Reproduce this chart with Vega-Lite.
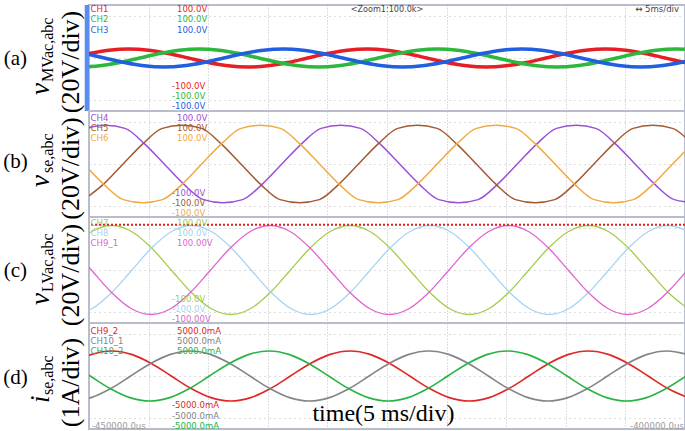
{
"$schema": "https://vega.github.io/schema/vega-lite/v6.json",
"background": "white",
"padding": {"left": 2, "top": 2, "right": 0, "bottom": 0},
"spacing": 0,
"bounds": "flush",
"resolve": {"scale": {"color": "independent", "x": "independent", "y": "independent"}},
"datasets": {
"a": [
{"c":"CH1","t":-1.67,"v":0},{"c":"CH1","t":0,"v":8.5},{"c":"CH1","t":1.67,"v":14.7},{"c":"CH1","t":3.33,"v":17},{"c":"CH1","t":5,"v":14.7},{"c":"CH1","t":6.67,"v":8.5},{"c":"CH1","t":8.33,"v":0},{"c":"CH1","t":10,"v":-8.5},{"c":"CH1","t":11.67,"v":-14.7},{"c":"CH1","t":13.33,"v":-17},{"c":"CH1","t":15,"v":-14.7},{"c":"CH1","t":16.67,"v":-8.5},
{"c":"CH1","t":18.33,"v":0},{"c":"CH1","t":20,"v":8.5},{"c":"CH1","t":21.67,"v":14.7},{"c":"CH1","t":23.33,"v":17},{"c":"CH1","t":25,"v":14.7},{"c":"CH1","t":26.67,"v":8.5},{"c":"CH1","t":28.33,"v":0},{"c":"CH1","t":30,"v":-8.5},{"c":"CH1","t":31.67,"v":-14.7},{"c":"CH1","t":33.33,"v":-17},{"c":"CH1","t":35,"v":-14.7},{"c":"CH1","t":36.67,"v":-8.5},
{"c":"CH1","t":38.33,"v":0},{"c":"CH1","t":40,"v":8.5},{"c":"CH1","t":41.67,"v":14.7},{"c":"CH1","t":43.33,"v":17},{"c":"CH1","t":45,"v":14.7},{"c":"CH1","t":46.67,"v":8.5},{"c":"CH1","t":48.33,"v":0},{"c":"CH1","t":50,"v":-8.5},{"c":"CH1","t":51.67,"v":-14.7},
{"c":"CH2","t":-0.75,"v":-17},{"c":"CH2","t":0.92,"v":-14.7},{"c":"CH2","t":2.58,"v":-8.5},{"c":"CH2","t":4.25,"v":0},{"c":"CH2","t":5.92,"v":8.5},{"c":"CH2","t":7.58,"v":14.7},{"c":"CH2","t":9.25,"v":17},{"c":"CH2","t":10.92,"v":14.7},{"c":"CH2","t":12.58,"v":8.5},{"c":"CH2","t":14.25,"v":0},{"c":"CH2","t":15.92,"v":-8.5},{"c":"CH2","t":17.58,"v":-14.7},
{"c":"CH2","t":19.25,"v":-17},{"c":"CH2","t":20.92,"v":-14.7},{"c":"CH2","t":22.58,"v":-8.5},{"c":"CH2","t":24.25,"v":0},{"c":"CH2","t":25.92,"v":8.5},{"c":"CH2","t":27.58,"v":14.7},{"c":"CH2","t":29.25,"v":17},{"c":"CH2","t":30.92,"v":14.7},{"c":"CH2","t":32.58,"v":8.5},{"c":"CH2","t":34.25,"v":0},{"c":"CH2","t":35.92,"v":-8.5},{"c":"CH2","t":37.58,"v":-14.7},
{"c":"CH2","t":39.25,"v":-17},{"c":"CH2","t":40.92,"v":-14.7},{"c":"CH2","t":42.58,"v":-8.5},{"c":"CH2","t":44.25,"v":0},{"c":"CH2","t":45.92,"v":8.5},{"c":"CH2","t":47.58,"v":14.7},{"c":"CH2","t":49.25,"v":17},{"c":"CH2","t":50.92,"v":14.7},
{"c":"CH3","t":-0.37,"v":8.5},{"c":"CH3","t":1.3,"v":0},{"c":"CH3","t":2.97,"v":-8.5},{"c":"CH3","t":4.63,"v":-14.7},{"c":"CH3","t":6.3,"v":-17},{"c":"CH3","t":7.97,"v":-14.7},{"c":"CH3","t":9.63,"v":-8.5},{"c":"CH3","t":11.3,"v":0},{"c":"CH3","t":12.97,"v":8.5},{"c":"CH3","t":14.63,"v":14.7},{"c":"CH3","t":16.3,"v":17},{"c":"CH3","t":17.97,"v":14.7},
{"c":"CH3","t":19.63,"v":8.5},{"c":"CH3","t":21.3,"v":0},{"c":"CH3","t":22.97,"v":-8.5},{"c":"CH3","t":24.63,"v":-14.7},{"c":"CH3","t":26.3,"v":-17},{"c":"CH3","t":27.97,"v":-14.7},{"c":"CH3","t":29.63,"v":-8.5},{"c":"CH3","t":31.3,"v":0},{"c":"CH3","t":32.97,"v":8.5},{"c":"CH3","t":34.63,"v":14.7},{"c":"CH3","t":36.3,"v":17},{"c":"CH3","t":37.97,"v":14.7},
{"c":"CH3","t":39.63,"v":8.5},{"c":"CH3","t":41.3,"v":0},{"c":"CH3","t":42.97,"v":-8.5},{"c":"CH3","t":44.63,"v":-14.7},{"c":"CH3","t":46.3,"v":-17},{"c":"CH3","t":47.97,"v":-14.7},{"c":"CH3","t":49.63,"v":-8.5},{"c":"CH3","t":51.3,"v":0}
],
"b": [
{"c":"CH4","t":-0.28,"v":67.2},{"c":"CH4","t":1.37,"v":73},{"c":"CH4","t":3.02,"v":67.2},{"c":"CH4","t":4.66,"v":38},{"c":"CH4","t":6.31,"v":0},{"c":"CH4","t":7.95,"v":-38},{"c":"CH4","t":9.6,"v":-67.2},{"c":"CH4","t":11.25,"v":-73},{"c":"CH4","t":12.89,"v":-67.2},{"c":"CH4","t":14.54,"v":-38},{"c":"CH4","t":16.18,"v":0},{"c":"CH4","t":17.83,"v":38},
{"c":"CH4","t":19.47,"v":67.2},{"c":"CH4","t":21.12,"v":73},{"c":"CH4","t":22.77,"v":67.2},{"c":"CH4","t":24.41,"v":38},{"c":"CH4","t":26.06,"v":0},{"c":"CH4","t":27.7,"v":-38},{"c":"CH4","t":29.35,"v":-67.2},{"c":"CH4","t":31,"v":-73},{"c":"CH4","t":32.64,"v":-67.2},{"c":"CH4","t":34.29,"v":-38},{"c":"CH4","t":35.93,"v":0},{"c":"CH4","t":37.58,"v":38},
{"c":"CH4","t":39.22,"v":67.2},{"c":"CH4","t":40.87,"v":73},{"c":"CH4","t":42.52,"v":67.2},{"c":"CH4","t":44.16,"v":38},{"c":"CH4","t":45.81,"v":0},{"c":"CH4","t":47.45,"v":-38},{"c":"CH4","t":49.1,"v":-67.2},{"c":"CH4","t":50.75,"v":-73},
{"c":"CH5","t":-0.43,"v":-67.2},{"c":"CH5","t":1.22,"v":-38},{"c":"CH5","t":2.86,"v":0},{"c":"CH5","t":4.51,"v":38},{"c":"CH5","t":6.15,"v":67.2},{"c":"CH5","t":7.8,"v":73},{"c":"CH5","t":9.45,"v":67.2},{"c":"CH5","t":11.09,"v":38},{"c":"CH5","t":12.74,"v":0},{"c":"CH5","t":14.38,"v":-38},{"c":"CH5","t":16.03,"v":-67.2},{"c":"CH5","t":17.68,"v":-73},
{"c":"CH5","t":19.32,"v":-67.2},{"c":"CH5","t":20.97,"v":-38},{"c":"CH5","t":22.61,"v":0},{"c":"CH5","t":24.26,"v":38},{"c":"CH5","t":25.9,"v":67.2},{"c":"CH5","t":27.55,"v":73},{"c":"CH5","t":29.2,"v":67.2},{"c":"CH5","t":30.84,"v":38},{"c":"CH5","t":32.49,"v":0},{"c":"CH5","t":34.13,"v":-38},{"c":"CH5","t":35.78,"v":-67.2},{"c":"CH5","t":37.43,"v":-73},
{"c":"CH5","t":39.07,"v":-67.2},{"c":"CH5","t":40.72,"v":-38},{"c":"CH5","t":42.36,"v":0},{"c":"CH5","t":44.01,"v":38},{"c":"CH5","t":45.65,"v":67.2},{"c":"CH5","t":47.3,"v":73},{"c":"CH5","t":48.95,"v":67.2},{"c":"CH5","t":50.59,"v":38},
{"c":"CH6","t":-0.41,"v":0},{"c":"CH6","t":1.23,"v":-38},{"c":"CH6","t":2.88,"v":-67.2},{"c":"CH6","t":4.53,"v":-73},{"c":"CH6","t":6.17,"v":-67.2},{"c":"CH6","t":7.82,"v":-38},{"c":"CH6","t":9.46,"v":0},{"c":"CH6","t":11.11,"v":38},{"c":"CH6","t":12.75,"v":67.2},{"c":"CH6","t":14.4,"v":73},{"c":"CH6","t":16.05,"v":67.2},{"c":"CH6","t":17.69,"v":38},
{"c":"CH6","t":19.34,"v":0},{"c":"CH6","t":20.98,"v":-38},{"c":"CH6","t":22.63,"v":-67.2},{"c":"CH6","t":24.28,"v":-73},{"c":"CH6","t":25.92,"v":-67.2},{"c":"CH6","t":27.57,"v":-38},{"c":"CH6","t":29.21,"v":0},{"c":"CH6","t":30.86,"v":38},{"c":"CH6","t":32.5,"v":67.2},{"c":"CH6","t":34.15,"v":73},{"c":"CH6","t":35.8,"v":67.2},{"c":"CH6","t":37.44,"v":38},
{"c":"CH6","t":39.09,"v":0},{"c":"CH6","t":40.73,"v":-38},{"c":"CH6","t":42.38,"v":-67.2},{"c":"CH6","t":44.03,"v":-73},{"c":"CH6","t":45.67,"v":-67.2},{"c":"CH6","t":47.32,"v":-38},{"c":"CH6","t":48.96,"v":0},{"c":"CH6","t":50.61,"v":38}
],
"c": [
{"c":"CH7","t":-1.43,"v":42},{"c":"CH7","t":0.23,"v":72.7},{"c":"CH7","t":1.9,"v":84},{"c":"CH7","t":3.57,"v":72.7},{"c":"CH7","t":5.23,"v":42},{"c":"CH7","t":6.9,"v":0},{"c":"CH7","t":8.57,"v":-42},{"c":"CH7","t":10.23,"v":-72.7},{"c":"CH7","t":11.9,"v":-84},{"c":"CH7","t":13.57,"v":-72.7},{"c":"CH7","t":15.23,"v":-42},{"c":"CH7","t":16.9,"v":0},
{"c":"CH7","t":18.57,"v":42},{"c":"CH7","t":20.23,"v":72.7},{"c":"CH7","t":21.9,"v":84},{"c":"CH7","t":23.57,"v":72.7},{"c":"CH7","t":25.23,"v":42},{"c":"CH7","t":26.9,"v":0},{"c":"CH7","t":28.57,"v":-42},{"c":"CH7","t":30.23,"v":-72.7},{"c":"CH7","t":31.9,"v":-84},{"c":"CH7","t":33.57,"v":-72.7},{"c":"CH7","t":35.23,"v":-42},{"c":"CH7","t":36.9,"v":0},
{"c":"CH7","t":38.57,"v":42},{"c":"CH7","t":40.23,"v":72.7},{"c":"CH7","t":41.9,"v":84},{"c":"CH7","t":43.57,"v":72.7},{"c":"CH7","t":45.23,"v":42},{"c":"CH7","t":46.9,"v":0},{"c":"CH7","t":48.57,"v":-42},{"c":"CH7","t":50.23,"v":-72.7},
{"c":"CH8","t":-1.4,"v":-84},{"c":"CH8","t":0.27,"v":-72.7},{"c":"CH8","t":1.93,"v":-42},{"c":"CH8","t":3.6,"v":0},{"c":"CH8","t":5.27,"v":42},{"c":"CH8","t":6.93,"v":72.7},{"c":"CH8","t":8.6,"v":84},{"c":"CH8","t":10.27,"v":72.7},{"c":"CH8","t":11.93,"v":42},{"c":"CH8","t":13.6,"v":0},{"c":"CH8","t":15.27,"v":-42},{"c":"CH8","t":16.93,"v":-72.7},
{"c":"CH8","t":18.6,"v":-84},{"c":"CH8","t":20.27,"v":-72.7},{"c":"CH8","t":21.93,"v":-42},{"c":"CH8","t":23.6,"v":0},{"c":"CH8","t":25.27,"v":42},{"c":"CH8","t":26.93,"v":72.7},{"c":"CH8","t":28.6,"v":84},{"c":"CH8","t":30.27,"v":72.7},{"c":"CH8","t":31.93,"v":42},{"c":"CH8","t":33.6,"v":0},{"c":"CH8","t":35.27,"v":-42},{"c":"CH8","t":36.93,"v":-72.7},
{"c":"CH8","t":38.6,"v":-84},{"c":"CH8","t":40.27,"v":-72.7},{"c":"CH8","t":41.93,"v":-42},{"c":"CH8","t":43.6,"v":0},{"c":"CH8","t":45.27,"v":42},{"c":"CH8","t":46.93,"v":72.7},{"c":"CH8","t":48.6,"v":84},{"c":"CH8","t":50.27,"v":72.7},
{"c":"CH9_1","t":-1.47,"v":42},{"c":"CH9_1","t":0.2,"v":0},{"c":"CH9_1","t":1.87,"v":-42},{"c":"CH9_1","t":3.53,"v":-72.7},{"c":"CH9_1","t":5.2,"v":-84},{"c":"CH9_1","t":6.87,"v":-72.7},{"c":"CH9_1","t":8.53,"v":-42},{"c":"CH9_1","t":10.2,"v":0},{"c":"CH9_1","t":11.87,"v":42},{"c":"CH9_1","t":13.53,"v":72.7},{"c":"CH9_1","t":15.2,"v":84},{"c":"CH9_1","t":16.87,"v":72.7},
{"c":"CH9_1","t":18.53,"v":42},{"c":"CH9_1","t":20.2,"v":0},{"c":"CH9_1","t":21.87,"v":-42},{"c":"CH9_1","t":23.53,"v":-72.7},{"c":"CH9_1","t":25.2,"v":-84},{"c":"CH9_1","t":26.87,"v":-72.7},{"c":"CH9_1","t":28.53,"v":-42},{"c":"CH9_1","t":30.2,"v":0},{"c":"CH9_1","t":31.87,"v":42},{"c":"CH9_1","t":33.53,"v":72.7},{"c":"CH9_1","t":35.2,"v":84},{"c":"CH9_1","t":36.87,"v":72.7},
{"c":"CH9_1","t":38.53,"v":42},{"c":"CH9_1","t":40.2,"v":0},{"c":"CH9_1","t":41.87,"v":-42},{"c":"CH9_1","t":43.53,"v":-72.7},{"c":"CH9_1","t":45.2,"v":-84},{"c":"CH9_1","t":46.87,"v":-72.7},{"c":"CH9_1","t":48.53,"v":-42},{"c":"CH9_1","t":50.2,"v":0}
],
"d": [
{"c":"CH9_2","t":-1.43,"v":1.18},{"c":"CH9_2","t":0.23,"v":2.04},{"c":"CH9_2","t":1.9,"v":2.36},{"c":"CH9_2","t":3.57,"v":2.04},{"c":"CH9_2","t":5.23,"v":1.18},{"c":"CH9_2","t":6.9,"v":0},{"c":"CH9_2","t":8.57,"v":-1.18},{"c":"CH9_2","t":10.23,"v":-2.04},{"c":"CH9_2","t":11.9,"v":-2.36},{"c":"CH9_2","t":13.57,"v":-2.04},{"c":"CH9_2","t":15.23,"v":-1.18},{"c":"CH9_2","t":16.9,"v":0},
{"c":"CH9_2","t":18.57,"v":1.18},{"c":"CH9_2","t":20.23,"v":2.04},{"c":"CH9_2","t":21.9,"v":2.36},{"c":"CH9_2","t":23.57,"v":2.04},{"c":"CH9_2","t":25.23,"v":1.18},{"c":"CH9_2","t":26.9,"v":0},{"c":"CH9_2","t":28.57,"v":-1.18},{"c":"CH9_2","t":30.23,"v":-2.04},{"c":"CH9_2","t":31.9,"v":-2.36},{"c":"CH9_2","t":33.57,"v":-2.04},{"c":"CH9_2","t":35.23,"v":-1.18},{"c":"CH9_2","t":36.9,"v":0},
{"c":"CH9_2","t":38.57,"v":1.18},{"c":"CH9_2","t":40.23,"v":2.04},{"c":"CH9_2","t":41.9,"v":2.36},{"c":"CH9_2","t":43.57,"v":2.04},{"c":"CH9_2","t":45.23,"v":1.18},{"c":"CH9_2","t":46.9,"v":0},{"c":"CH9_2","t":48.57,"v":-1.18},{"c":"CH9_2","t":50.23,"v":-2.04},
{"c":"CH10_1","t":-1.5,"v":-2.36},{"c":"CH10_1","t":0.17,"v":-2.04},{"c":"CH10_1","t":1.83,"v":-1.18},{"c":"CH10_1","t":3.5,"v":0},{"c":"CH10_1","t":5.17,"v":1.18},{"c":"CH10_1","t":6.83,"v":2.04},{"c":"CH10_1","t":8.5,"v":2.36},{"c":"CH10_1","t":10.17,"v":2.04},{"c":"CH10_1","t":11.83,"v":1.18},{"c":"CH10_1","t":13.5,"v":0},{"c":"CH10_1","t":15.17,"v":-1.18},{"c":"CH10_1","t":16.83,"v":-2.04},
{"c":"CH10_1","t":18.5,"v":-2.36},{"c":"CH10_1","t":20.17,"v":-2.04},{"c":"CH10_1","t":21.83,"v":-1.18},{"c":"CH10_1","t":23.5,"v":0},{"c":"CH10_1","t":25.17,"v":1.18},{"c":"CH10_1","t":26.83,"v":2.04},{"c":"CH10_1","t":28.5,"v":2.36},{"c":"CH10_1","t":30.17,"v":2.04},{"c":"CH10_1","t":31.83,"v":1.18},{"c":"CH10_1","t":33.5,"v":0},{"c":"CH10_1","t":35.17,"v":-1.18},{"c":"CH10_1","t":36.83,"v":-2.04},
{"c":"CH10_1","t":38.5,"v":-2.36},{"c":"CH10_1","t":40.17,"v":-2.04},{"c":"CH10_1","t":41.83,"v":-1.18},{"c":"CH10_1","t":43.5,"v":0},{"c":"CH10_1","t":45.17,"v":1.18},{"c":"CH10_1","t":46.83,"v":2.04},{"c":"CH10_1","t":48.5,"v":2.36},{"c":"CH10_1","t":50.17,"v":2.04},
{"c":"CH10_2","t":-1.57,"v":1.18},{"c":"CH10_2","t":0.1,"v":0},{"c":"CH10_2","t":1.77,"v":-1.18},{"c":"CH10_2","t":3.43,"v":-2.04},{"c":"CH10_2","t":5.1,"v":-2.36},{"c":"CH10_2","t":6.77,"v":-2.04},{"c":"CH10_2","t":8.43,"v":-1.18},{"c":"CH10_2","t":10.1,"v":0},{"c":"CH10_2","t":11.77,"v":1.18},{"c":"CH10_2","t":13.43,"v":2.04},{"c":"CH10_2","t":15.1,"v":2.36},{"c":"CH10_2","t":16.77,"v":2.04},
{"c":"CH10_2","t":18.43,"v":1.18},{"c":"CH10_2","t":20.1,"v":0},{"c":"CH10_2","t":21.77,"v":-1.18},{"c":"CH10_2","t":23.43,"v":-2.04},{"c":"CH10_2","t":25.1,"v":-2.36},{"c":"CH10_2","t":26.77,"v":-2.04},{"c":"CH10_2","t":28.43,"v":-1.18},{"c":"CH10_2","t":30.1,"v":0},{"c":"CH10_2","t":31.77,"v":1.18},{"c":"CH10_2","t":33.43,"v":2.04},{"c":"CH10_2","t":35.1,"v":2.36},{"c":"CH10_2","t":36.77,"v":2.04},
{"c":"CH10_2","t":38.43,"v":1.18},{"c":"CH10_2","t":40.1,"v":0},{"c":"CH10_2","t":41.77,"v":-1.18},{"c":"CH10_2","t":43.43,"v":-2.04},{"c":"CH10_2","t":45.1,"v":-2.36},{"c":"CH10_2","t":46.77,"v":-2.04},{"c":"CH10_2","t":48.43,"v":-1.18},{"c":"CH10_2","t":50.1,"v":0}
]
},
"vconcat": [
{
"width": 596, "height": 106,
"layer": [
{"data": {"name": "a"},
 "mark": {"type": "line", "interpolate": "monotone", "clip": true, "strokeWidth": 3.5},
 "encoding": {
  "x": {"field": "t", "type": "quantitative", "scale": {"domain": [0, 50], "nice": false}, "axis": {"values": [5,10,15,20,25,30,35,40,45], "title": null}},
  "y": {"field": "v", "type": "quantitative", "scale": {"domain": [-100, 100], "nice": false}, "axis": {"values": [-80,-60,-40,-20,0,20,40,60,80], "title": "(20V/div)", "titleY": 56.5}},
  "color": {"field": "c", "type": "nominal", "scale": {"domain": ["CH1","CH2","CH3"], "range": ["#e61e25","#2cb83c","#1f5fe0"]}, "legend": null}
 }},
{"data": {"values": [{}]},
 "layer": [
  {"mark": {"type": "rect", "color": "#5b8def"}, "encoding": {"x": {"datum": -0.36}, "x2": {"datum": 0}, "y": {"datum": 100}, "y2": {"datum": -100}}},
  {"mark": {"type": "text", "color": "#e61e25"}, "encoding": {"x": {"datum": 0.13}, "y": {"datum": 92.8}, "text": {"value": "CH1"}}},
  {"mark": {"type": "text", "color": "#2cb83c"}, "encoding": {"x": {"datum": 0.13}, "y": {"datum": 73.0}, "text": {"value": "CH2"}}},
  {"mark": {"type": "text", "color": "#1f5fe0"}, "encoding": {"x": {"datum": 0.13}, "y": {"datum": 53.2}, "text": {"value": "CH3"}}},
  {"mark": {"type": "text", "color": "#e61e25"}, "encoding": {"x": {"datum": 7.38}, "y": {"datum": 92.8}, "text": {"value": "100.0V"}}},
  {"mark": {"type": "text", "color": "#2cb83c"}, "encoding": {"x": {"datum": 7.38}, "y": {"datum": 73.0}, "text": {"value": "100.0V"}}},
  {"mark": {"type": "text", "color": "#1f5fe0"}, "encoding": {"x": {"datum": 7.38}, "y": {"datum": 53.2}, "text": {"value": "100.0V"}}},
  {"mark": {"type": "text", "color": "#e61e25"}, "encoding": {"x": {"datum": 6.96}, "y": {"datum": -52.5}, "text": {"value": "-100.0V"}}},
  {"mark": {"type": "text", "color": "#2cb83c"}, "encoding": {"x": {"datum": 6.96}, "y": {"datum": -72.3}, "text": {"value": "-100.0V"}}},
  {"mark": {"type": "text", "color": "#1f5fe0"}, "encoding": {"x": {"datum": 6.96}, "y": {"datum": -91.0}, "text": {"value": "-100.0V"}}},
  {"mark": {"type": "text", "color": "#444444", "align": "center", "fontSize": 9}, "encoding": {"x": {"datum": 25}, "y": {"datum": 92.5}, "text": {"value": "<Zoom1:100.0k>"}}},
  {"mark": {"type": "text", "color": "#444444", "align": "right", "fontSize": 9.5}, "encoding": {"x": {"datum": 49.5}, "y": {"datum": 92.5}, "text": {"value": "↔ 5ms/div"}}},
  {"mark": {"type": "text", "color": "black", "align": "center", "font": "Liberation Serif", "fontSize": 21}, "encoding": {"x": {"datum": -6.17}, "y": {"datum": -2}, "text": {"value": "(a)"}}},
  {"mark": {"type": "text", "color": "black", "angle": 270, "baseline": "alphabetic", "font": "Liberation Serif", "fontStyle": "italic", "fontSize": 27}, "encoding": {"x": {"datum": -3.36}, "y": {"datum": -69.8}, "text": {"value": "v"}}},
  {"mark": {"type": "text", "color": "black", "angle": 270, "baseline": "alphabetic", "font": "Liberation Serif", "fontSize": 16}, "encoding": {"x": {"datum": -3.06}, "y": {"datum": -45.3}, "text": {"value": "MVac,abc"}}}
 ]}
]
},
{
"width": 596, "height": 106,
"layer": [
{"data": {"name": "b"},
 "mark": {"type": "line", "interpolate": "monotone", "clip": true, "strokeWidth": 1.5},
 "encoding": {
  "x": {"field": "t", "type": "quantitative", "scale": {"domain": [0, 50], "nice": false}, "axis": {"values": [5,10,15,20,25,30,35,40,45], "title": null}},
  "y": {"field": "v", "type": "quantitative", "scale": {"domain": [-100, 100], "nice": false}, "axis": {"values": [-80,-60,-40,-20,0,20,40,60,80], "title": "(20V/div)", "titleY": 57}},
  "color": {"field": "c", "type": "nominal", "scale": {"domain": ["CH4","CH5","CH6"], "range": ["#9b50d8","#a35a32","#f2a93f"]}, "legend": null}
 }},
{"data": {"values": [{}]},
 "layer": [
  {"mark": {"type": "text", "color": "#9b50d8"}, "encoding": {"x": {"datum": 0.13}, "y": {"datum": 87.0}, "text": {"value": "CH4"}}},
  {"mark": {"type": "text", "color": "#a35a32"}, "encoding": {"x": {"datum": 0.13}, "y": {"datum": 68.0}, "text": {"value": "CH5"}}},
  {"mark": {"type": "text", "color": "#f2a93f"}, "encoding": {"x": {"datum": 0.13}, "y": {"datum": 49.0}, "text": {"value": "CH6"}}},
  {"mark": {"type": "text", "color": "#9b50d8"}, "encoding": {"x": {"datum": 7.38}, "y": {"datum": 87.0}, "text": {"value": "100.0V"}}},
  {"mark": {"type": "text", "color": "#a35a32"}, "encoding": {"x": {"datum": 7.38}, "y": {"datum": 68.0}, "text": {"value": "100.0V"}}},
  {"mark": {"type": "text", "color": "#f2a93f"}, "encoding": {"x": {"datum": 7.38}, "y": {"datum": 49.0}, "text": {"value": "100.0V"}}},
  {"mark": {"type": "text", "color": "#9b50d8"}, "encoding": {"x": {"datum": 6.96}, "y": {"datum": -53.8}, "text": {"value": "-100.0V"}}},
  {"mark": {"type": "text", "color": "#a35a32"}, "encoding": {"x": {"datum": 6.96}, "y": {"datum": -72.8}, "text": {"value": "-100.0V"}}},
  {"mark": {"type": "text", "color": "#f2a93f"}, "encoding": {"x": {"datum": 6.96}, "y": {"datum": -91.8}, "text": {"value": "-100.0V"}}},
  {"mark": {"type": "text", "color": "black", "align": "center", "font": "Liberation Serif", "fontSize": 21}, "encoding": {"x": {"datum": -6.17}, "y": {"datum": 3.8}, "text": {"value": "(b)"}}},
  {"mark": {"type": "text", "color": "black", "angle": 270, "baseline": "alphabetic", "font": "Liberation Serif", "fontStyle": "italic", "fontSize": 27}, "encoding": {"x": {"datum": -3.36}, "y": {"datum": -43.4}, "text": {"value": "v"}}},
  {"mark": {"type": "text", "color": "black", "angle": 270, "baseline": "alphabetic", "font": "Liberation Serif", "fontSize": 16}, "encoding": {"x": {"datum": -3.06}, "y": {"datum": -17.0}, "text": {"value": "se,abc"}}}
 ]}
]
},
{
"width": 596, "height": 106,
"layer": [
{"data": {"name": "c"},
 "mark": {"type": "line", "interpolate": "monotone", "clip": true, "strokeWidth": 1.3},
 "encoding": {
  "x": {"field": "t", "type": "quantitative", "scale": {"domain": [0, 50], "nice": false}, "axis": {"values": [5,10,15,20,25,30,35,40,45], "title": null}},
  "y": {"field": "v", "type": "quantitative", "scale": {"domain": [-100, 100], "nice": false}, "axis": {"values": [-80,-60,-40,-20,0,20,40,60,80], "title": "(20V/div)", "titleY": 57.5}},
  "color": {"field": "c", "type": "nominal", "scale": {"domain": ["CH7","CH8","CH9_1"], "range": ["#a3cc4a","#a6d4f2","#e064cf"]}, "legend": null}
 }},
{"data": {"values": [{}]},
 "layer": [
  {"mark": {"type": "rule", "color": "#e0201e", "strokeDash": [2, 2], "strokeWidth": 2}, "encoding": {"y": {"datum": 85.5}}},
  {"mark": {"type": "text", "color": "#a3cc4a"}, "encoding": {"x": {"datum": 0.13}, "y": {"datum": 88.5}, "text": {"value": "CH7"}}},
  {"mark": {"type": "text", "color": "#a6d4f2"}, "encoding": {"x": {"datum": 0.13}, "y": {"datum": 69.5}, "text": {"value": "CH8"}}},
  {"mark": {"type": "text", "color": "#e064cf"}, "encoding": {"x": {"datum": 0.13}, "y": {"datum": 50.5}, "text": {"value": "CH9_1"}}},
  {"mark": {"type": "text", "color": "#a3cc4a"}, "encoding": {"x": {"datum": 7.38}, "y": {"datum": 88.5}, "text": {"value": "100.0V"}}},
  {"mark": {"type": "text", "color": "#a6d4f2"}, "encoding": {"x": {"datum": 7.38}, "y": {"datum": 69.5}, "text": {"value": "100.0V"}}},
  {"mark": {"type": "text", "color": "#e064cf"}, "encoding": {"x": {"datum": 7.38}, "y": {"datum": 50.5}, "text": {"value": "100.00V"}}},
  {"mark": {"type": "text", "color": "#a3cc4a"}, "encoding": {"x": {"datum": 6.96}, "y": {"datum": -54.7}, "text": {"value": "-100.0V"}}},
  {"mark": {"type": "text", "color": "#a6d4f2"}, "encoding": {"x": {"datum": 6.96}, "y": {"datum": -73.7}, "text": {"value": "-100.0V"}}},
  {"mark": {"type": "text", "color": "#e064cf"}, "encoding": {"x": {"datum": 6.96}, "y": {"datum": -92.7}, "text": {"value": "-100.00V"}}},
  {"mark": {"type": "text", "color": "black", "align": "center", "font": "Liberation Serif", "fontSize": 21}, "encoding": {"x": {"datum": -6.17}, "y": {"datum": -1.9}, "text": {"value": "(c)"}}},
  {"mark": {"type": "text", "color": "black", "angle": 270, "baseline": "alphabetic", "font": "Liberation Serif", "fontStyle": "italic", "fontSize": 27}, "encoding": {"x": {"datum": -3.36}, "y": {"datum": -66.0}, "text": {"value": "v"}}},
  {"mark": {"type": "text", "color": "black", "angle": 270, "baseline": "alphabetic", "font": "Liberation Serif", "fontSize": 16}, "encoding": {"x": {"datum": -3.06}, "y": {"datum": -41.5}, "text": {"value": "LVac,abc"}}}
 ]}
]
},
{
"width": 596, "height": 106,
"layer": [
{"data": {"name": "d"},
 "mark": {"type": "line", "interpolate": "monotone", "clip": true, "strokeWidth": 1.6},
 "encoding": {
  "x": {"field": "t", "type": "quantitative", "scale": {"domain": [0, 50], "nice": false}, "axis": {"values": [5,10,15,20,25,30,35,40,45], "title": null}},
  "y": {"field": "v", "type": "quantitative", "scale": {"domain": [-5, 5], "nice": false}, "axis": {"values": [-4,-3,-2,-1,0,1,2,3,4], "title": "(1A/div)", "titleY": 59}},
  "color": {"field": "c", "type": "nominal", "scale": {"domain": ["CH9_2","CH10_1","CH10_2"], "range": ["#e02626","#858585","#28b445"]}, "legend": null}
 }},
{"data": {"values": [{}]},
 "layer": [
  {"mark": {"type": "text", "color": "#e02626"}, "encoding": {"x": {"datum": 0.13}, "y": {"datum": 4.28}, "text": {"value": "CH9_2"}}},
  {"mark": {"type": "text", "color": "#858585"}, "encoding": {"x": {"datum": 0.13}, "y": {"datum": 3.33}, "text": {"value": "CH10_1"}}},
  {"mark": {"type": "text", "color": "#28b445"}, "encoding": {"x": {"datum": 0.13}, "y": {"datum": 2.38}, "text": {"value": "CH10_2"}}},
  {"mark": {"type": "text", "color": "#e02626"}, "encoding": {"x": {"datum": 7.38}, "y": {"datum": 4.28}, "text": {"value": "5000.0mA"}}},
  {"mark": {"type": "text", "color": "#858585"}, "encoding": {"x": {"datum": 7.38}, "y": {"datum": 3.33}, "text": {"value": "5000.0mA"}}},
  {"mark": {"type": "text", "color": "#28b445"}, "encoding": {"x": {"datum": 7.38}, "y": {"datum": 2.38}, "text": {"value": "5000.0mA"}}},
  {"mark": {"type": "text", "color": "#e02626"}, "encoding": {"x": {"datum": 6.96}, "y": {"datum": -2.78}, "text": {"value": "-5000.0mA"}}},
  {"mark": {"type": "text", "color": "#858585"}, "encoding": {"x": {"datum": 6.96}, "y": {"datum": -3.73}, "text": {"value": "-5000.0mA"}}},
  {"mark": {"type": "text", "color": "#28b445"}, "encoding": {"x": {"datum": 6.96}, "y": {"datum": -4.68}, "text": {"value": "-5000.0mA"}}},
  {"mark": {"type": "text", "color": "#9a9a9a"}, "encoding": {"x": {"datum": 0.25}, "y": {"datum": -4.67}, "text": {"value": "-450000.0us"}}},
  {"mark": {"type": "text", "color": "#9a9a9a", "align": "right"}, "encoding": {"x": {"datum": 49.9}, "y": {"datum": -4.7}, "text": {"value": "-400000.0us"}}},
  {"mark": {"type": "text", "color": "black", "align": "center", "baseline": "alphabetic", "font": "Liberation Serif", "fontSize": 24}, "encoding": {"x": {"datum": 24.7}, "y": {"datum": -4.25}, "text": {"value": "time(5 ms/div)"}}},
  {"mark": {"type": "text", "color": "black", "align": "center", "font": "Liberation Serif", "fontSize": 21}, "encoding": {"x": {"datum": -6.17}, "y": {"datum": -0.19}, "text": {"value": "(d)"}}},
  {"mark": {"type": "text", "color": "black", "angle": 270, "baseline": "alphabetic", "font": "Liberation Serif", "fontStyle": "italic", "fontSize": 27}, "encoding": {"x": {"datum": -3.36}, "y": {"datum": -2.55}, "text": {"value": "i"}}},
  {"mark": {"type": "text", "color": "black", "angle": 270, "baseline": "alphabetic", "font": "Liberation Serif", "fontSize": 16}, "encoding": {"x": {"datum": -3.06}, "y": {"datum": -1.79}, "text": {"value": "se,abc"}}}
 ]}
]
}
],
"config": {
 "view": {"stroke": "#b8bccc", "strokeWidth": 2},
 "axis": {"grid": true, "gridColor": "#bdbdbd", "gridWidth": 1, "labels": false, "ticks": false, "domain": false},
 "axisX": {"gridDash": [1, 2]},
 "axisY": {"gridDash": [1, 4], "titleFont": "Liberation Serif", "titleFontSize": 26, "titleFontWeight": "normal", "titleColor": "black", "titleAngle": 270, "titleX": -18.5, "titleAlign": "center", "titleBaseline": "middle"},
 "text": {"font": "Liberation Sans Narrow, DejaVu Sans Condensed, Arial Narrow, sans-serif", "fontSize": 9.5, "baseline": "middle", "align": "left"}
}
}
